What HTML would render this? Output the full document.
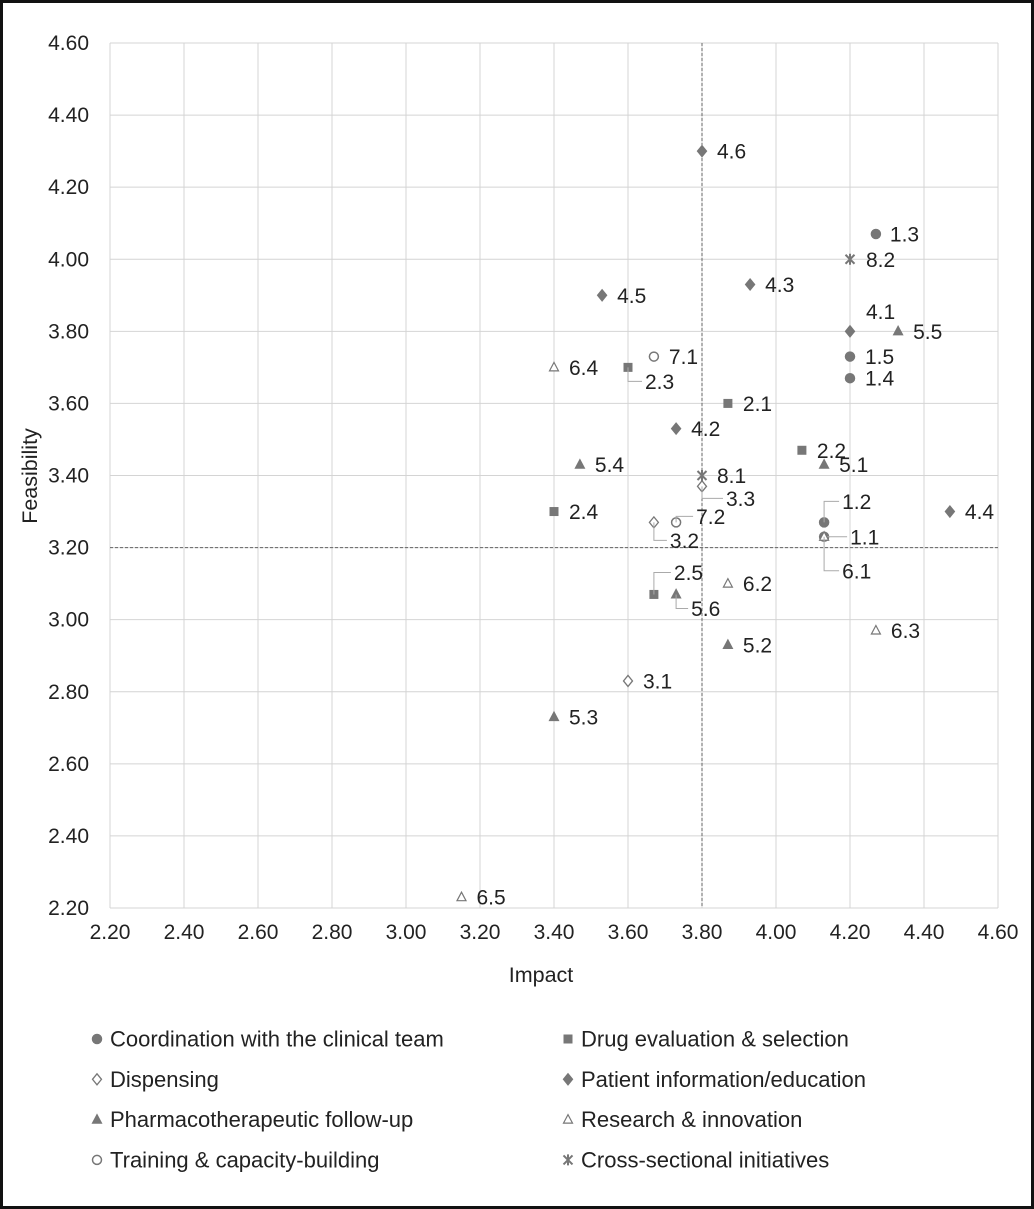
<!DOCTYPE html>
<html><head><meta charset="utf-8"><style>
body{margin:0;background:#fff}
#frame{position:absolute;left:0;top:0;width:1028px;height:1203px;border:3px solid #111;background:#fff}
svg{position:absolute;left:0;top:0}
text{font-family:"Liberation Sans",sans-serif;fill:#222}
</style></head><body>
<div id="frame"></div>
<svg id="c" width="1034" height="1209"></svg>
<script>
const xTicks=["2.20","2.40","2.60","2.80","3.00","3.20","3.40","3.60","3.80","4.00","4.20","4.40","4.60"];
const yTicks=["2.20","2.40","2.60","2.80","3.00","3.20","3.40","3.60","3.80","4.00","4.20","4.40","4.60"];
const categories=["Coordination with the clinical team","Drug evaluation & selection","Dispensing","Patient information/education","Pharmacotherapeutic follow-up","Research & innovation","Training & capacity-building","Cross-sectional initiatives"];
const labels=["1.1","1.2","1.3","1.4","1.5","2.1","2.2","2.3","2.4","2.5","3.1","3.2","3.3","4.1","4.2","4.3","4.4","4.5","4.6","5.1","5.2","5.3","5.4","5.5","5.6","6.1","6.2","6.3","6.4","6.5","7.1","7.2","8.1","8.2"];
const groups=[0,0,0,0,0,1,1,1,1,1,2,2,2,3,3,3,3,3,3,4,4,4,4,4,4,5,5,5,5,5,6,6,7,7];
const impact=[4.13,4.13,4.27,4.20,4.20,3.87,4.07,3.60,3.40,3.67,3.60,3.67,3.80,4.20,3.73,3.93,4.47,3.53,3.80,4.13,3.87,3.40,3.47,4.33,3.73,4.13,3.87,4.27,3.40,3.15,3.67,3.73,3.80,4.20];
const feasibility=[3.23,3.27,4.07,3.67,3.73,3.60,3.47,3.70,3.30,3.07,2.83,3.27,3.37,3.80,3.53,3.93,3.30,3.90,4.30,3.43,2.93,2.73,3.43,3.80,3.07,3.23,3.10,2.97,3.70,2.23,3.73,3.27,3.40,4.00];
// label placement: [dx,dy,leader]
const place={"1.1":[26,0,1],"1.2":[18,-21,1],"6.1":[18,34,1],"2.3":[17,14,1],"2.5":[20,-22,1],"5.6":[15,14,1],"3.2":[16,18,1],"3.3":[24,12,1],"7.2":[20,-6,1],"4.1":[16,-20,0],"1.3":[14,0,0],"8.2":[16,0,0]};
const L=110,R=998,T=43,B=908,xmin=2.2,xmax=4.6,ymin=2.2,ymax=4.6;
const sx=v=>L+(v-xmin)/(xmax-xmin)*(R-L);
const sy=v=>B-(v-ymin)/(ymax-ymin)*(B-T);
const svg=document.getElementById('c');const NS="http://www.w3.org/2000/svg";
function mk(t,a,p){const e=document.createElementNS(NS,t);for(const k in a)e.setAttribute(k,a[k]);(p||svg).appendChild(e);return e;}
xTicks.forEach(t=>{const x=sx(+t);const l=mk('line',{x1:x,x2:x,y1:T,y2:B,stroke:'#d4d4d4','stroke-width':1});

const tx=mk('text',{x:x,y:B+31,'text-anchor':'middle','font-size':21});tx.textContent=t;
});
yTicks.forEach(t=>{const y=sy(+t);const l=mk('line',{x1:L,x2:R,y1:y,y2:y,stroke:'#d4d4d4','stroke-width':1});

const tx=mk('text',{x:L-21,y:y+7,'text-anchor':'end','font-size':21});tx.textContent=t;
});
let d=mk('line',{x1:sx(3.8),x2:sx(3.8),y1:T,y2:B,stroke:'#666','stroke-dasharray':'3,2'});

d=mk('line',{x1:L,x2:R,y1:sy(3.2),y2:sy(3.2),stroke:'#666','stroke-dasharray':'3,2'});

let t=mk('text',{x:541,y:982,'text-anchor':'middle','font-size':21.5});t.textContent='Impact';

t=mk('text',{x:37,y:476,'text-anchor':'middle','font-size':21.5,transform:'rotate(-90 37 476)'});t.textContent='Feasibility';

const G='#777';
function marker(g,x,y,parent){const p=parent||svg;let e;
if(g==0||g==6)e=mk('circle',{cx:x,cy:y,r:4.5,fill:g==0?G:'#fff',stroke:G,'stroke-width':1.5},p);
else if(g==1)e=mk('rect',{x:x-4.5,y:y-4.5,width:9,height:9,fill:G},p);
else if(g==2||g==3)e=mk('polygon',{points:`${x},${y-5.5} ${x+4.5},${y} ${x},${y+5.5} ${x-4.5},${y}`,fill:g==3?G:'#fff',stroke:G,'stroke-width':1.3},p);
else if(g==4||g==5)e=mk('polygon',{points:`${x},${y-5} ${x+4.5},${y+3.5} ${x-4.5},${y+3.5}`,fill:g==4?G:'#fff',stroke:G,'stroke-width':1.2},p);
else{e=mk('g',{},p);mk('path',{d:`M${x-4.5},${y-4.5}L${x+4.5},${y+4.5}M${x+4.5},${y-4.5}L${x-4.5},${y+4.5}M${x},${y-5.5}L${x},${y+5.5}`,stroke:G,'stroke-width':2},e);}
return e;}
labels.forEach((lab,i)=>{const x=sx(impact[i]),y=sy(feasibility[i]);
const m=marker(groups[i],x,y);

const pl=place[lab]||[15,0,0];const lx=x+pl[0],ly=y+pl[1];
if(pl[2]){const pp=mk('polyline',{points:`${x},${y} ${x},${ly} ${lx-3},${ly}`,fill:'none',stroke:'#aaa','stroke-width':1});
}
const tx=mk('text',{x:lx,y:ly+7.5,'font-size':21});tx.textContent=lab;
});
categories.forEach((c,i)=>{const col=i%2,row=Math.floor(i/2);const mx=col?568:97,y=1039+row*40.3;
const g=mk('g',{});
marker(i,mx,y,g);const tx=mk('text',{x:mx+13,y:y+7.5,'font-size':22,textLength:null},g);tx.removeAttribute('textLength');tx.textContent=c;});
</script></body></html>
